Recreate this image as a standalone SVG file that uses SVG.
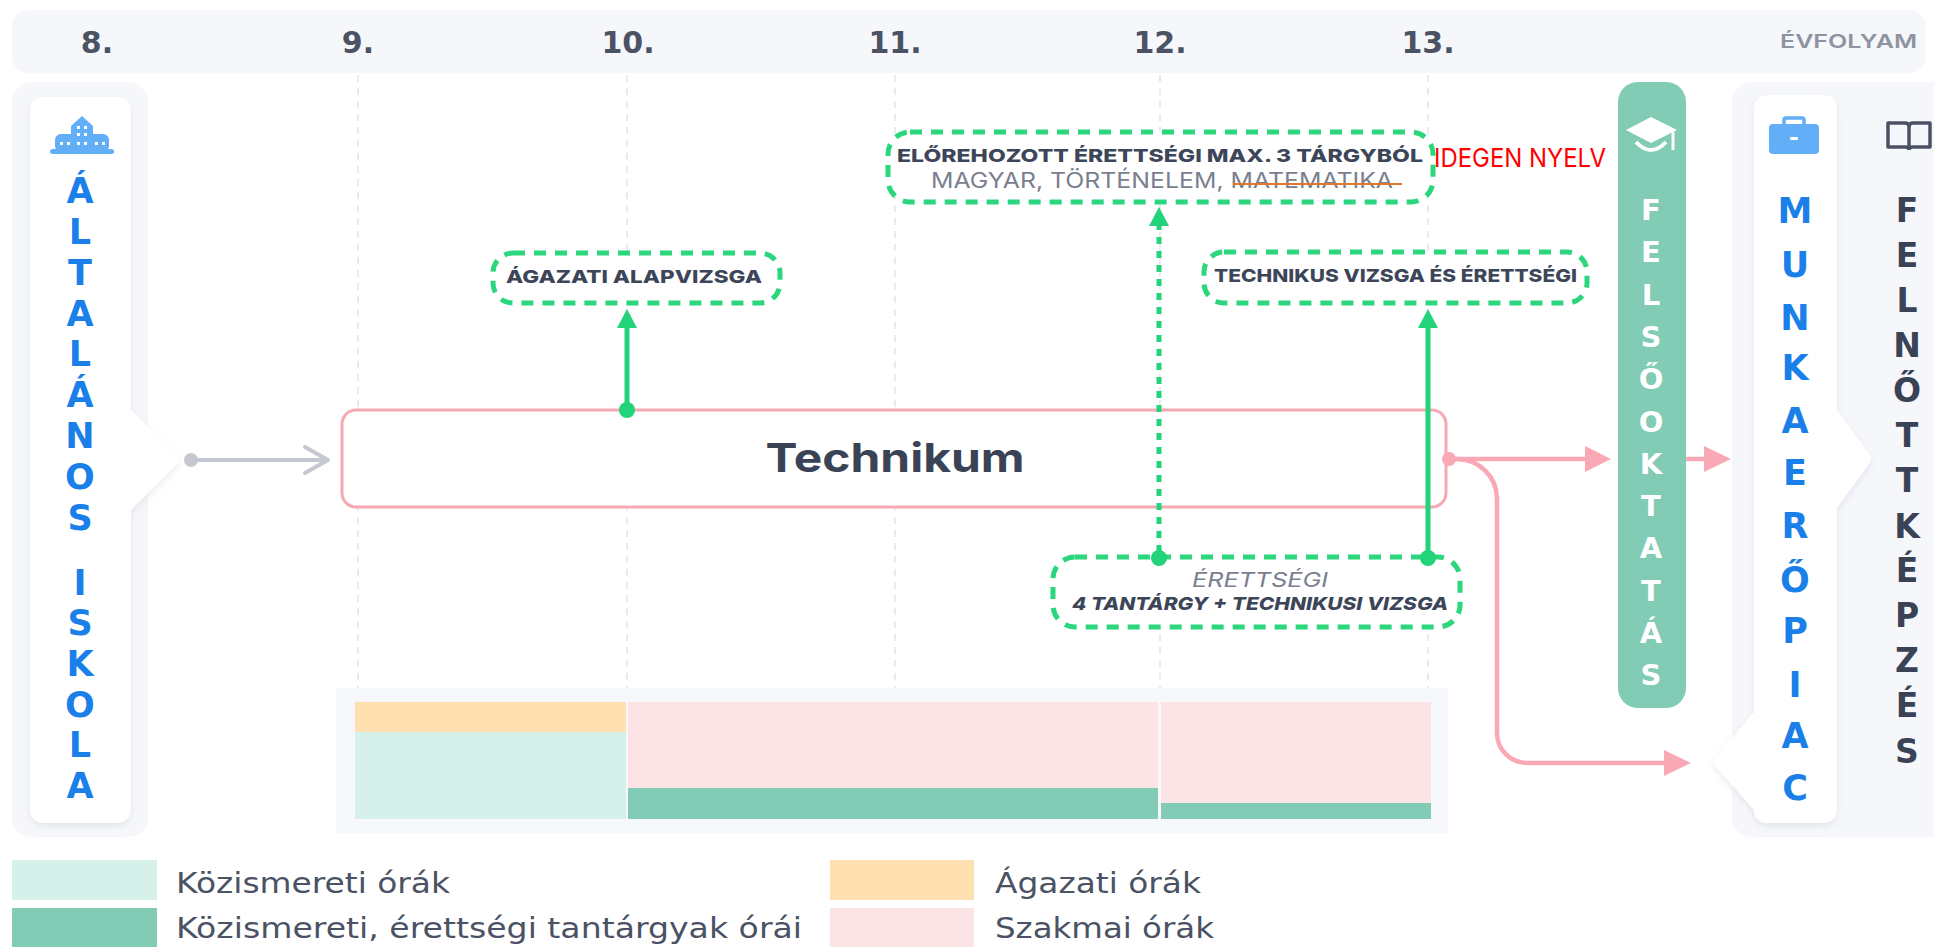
<svg xmlns="http://www.w3.org/2000/svg" width="1934" height="947" viewBox="0 0 1934 947">
<defs>
<style>
text{font-family:"Inter","Noto Sans","Liberation Sans",sans-serif}
.yr{font-family:"DejaVu Sans","Inter",sans-serif;font-size:30px;font-weight:700;fill:#4a5264;text-anchor:middle}
.grid{stroke:#e3e5eb;stroke-width:1.5;stroke-dasharray:7 6;fill:none}
.panel{fill:#f6f7fb}
.card{fill:#ffffff;filter:url(#sh)}
.gbox{fill:#ffffff;stroke:#2bd67d;stroke-width:5;stroke-dasharray:12 9}
.btxt{font-size:18px;font-weight:800;fill:#3d4659}
.gtxt{font-size:21px;font-weight:400;fill:#7a8090}
.gline{stroke:#22d37a;stroke-width:5;fill:none}
.gdot{stroke:#22d37a;stroke-width:5;stroke-dasharray:7 7;fill:none}
.gfill{fill:#22d37a}
.pink{stroke:#f9a9b5;stroke-width:4.5;fill:none}
.pfill{fill:#f9a9b5}
.vert{font-family:"DejaVu Sans","Inter",sans-serif;font-weight:700;text-anchor:middle}
.vblue{font-size:35px;fill:#1a7fe8}
.vdark{font-size:33px;fill:#3a4256}
.vwhite{font-size:29px;fill:#ffffff}
.leg{font-family:"DejaVu Sans","Noto Sans",sans-serif;font-size:28px;font-weight:400;fill:#4a5264}
</style>
<filter id="sh" x="-20%" y="-5%" width="140%" height="110%">
<feDropShadow dx="0" dy="3" stdDeviation="3" flood-color="#8a90a8" flood-opacity="0.18"/>
</filter>
</defs>

<!-- header -->
<g id="header">
<rect x="12" y="10" width="1914" height="63" rx="16" class="panel"/>
<text class="yr" x="97" y="53">8.</text>
<text class="yr" x="358" y="53">9.</text>
<text class="yr" x="628" y="53">10.</text>
<text class="yr" x="895" y="53">11.</text>
<text class="yr" x="1160" y="53">12.</text>
<text class="yr" x="1428" y="53">13.</text>
<text x="1780" y="48" font-size="19" font-weight="600" fill="#8c93a1" textLength="137" lengthAdjust="spacingAndGlyphs">ÉVFOLYAM</text>
</g>

<!-- grid lines -->
<g id="grid">
<line class="grid" x1="358" y1="75" x2="358" y2="688"/>
<line class="grid" x1="627" y1="75" x2="627" y2="688"/>
<line class="grid" x1="895" y1="75" x2="895" y2="688"/>
<line class="grid" x1="1160" y1="75" x2="1160" y2="688"/>
<line class="grid" x1="1428" y1="75" x2="1428" y2="688"/>
</g>

<!-- left node -->
<g id="altalanos-iskola">
<rect x="12" y="82" width="136" height="755" rx="20" class="panel"/>
<path class="card" d="M45,97 H116 Q131,97 131,112 V410 L176,455 Q180,460 176,465 L131,510 V808 Q131,823 116,823 H45 Q30,823 30,808 V112 Q30,97 45,97 Z"/>
<g fill="#62aef7">
<rect x="50" y="149" width="64" height="5" rx="2.5"/>
<path d="M71,151 V126 L82,116 L93,126 V151 Z"/>
<rect x="55" y="134" width="54" height="18" rx="6"/>
</g>
<g fill="#ffffff">
<rect x="77" y="126" width="3" height="3"/><rect x="84" y="126" width="3" height="3"/>
<rect x="77" y="133" width="3" height="3"/><rect x="84" y="133" width="3" height="3"/>
<rect x="60" y="142" width="3" height="3"/><rect x="67" y="142" width="3" height="3"/>
<rect x="77" y="142" width="3" height="3"/><rect x="84" y="142" width="3" height="3"/>
<rect x="95" y="142" width="3" height="3"/><rect x="102" y="142" width="3" height="3"/>
</g>
<text class="vert vblue"><tspan x="80" y="203">Á</tspan><tspan x="80" y="244">L</tspan><tspan x="80" y="285">T</tspan><tspan x="80" y="326">A</tspan><tspan x="80" y="366">L</tspan><tspan x="80" y="407">Á</tspan><tspan x="80" y="448">N</tspan><tspan x="80" y="489">O</tspan><tspan x="80" y="530">S</tspan><tspan x="80" y="595">I</tspan><tspan x="80" y="635">S</tspan><tspan x="80" y="676">K</tspan><tspan x="80" y="717">O</tspan><tspan x="80" y="757">L</tspan><tspan x="80" y="798">A</tspan></text>
</g>

<!-- chart -->
<g id="chart">
<rect x="336" y="688" width="1112" height="145" fill="#f7f8fb"/>
<rect x="355" y="702" width="271" height="30" fill="#fee0b1"/>
<rect x="355" y="732" width="271" height="87" fill="#d6f1e9"/>
<rect x="628" y="702" width="530" height="86" fill="#fbe3e6"/>
<rect x="628" y="788" width="530" height="31" fill="#82cbb4"/>
<rect x="1161" y="702" width="270" height="101" fill="#fbe3e6"/>
<rect x="1161" y="803" width="270" height="16" fill="#82cbb4"/>
</g>

<!-- Technikum -->
<g id="technikum">
<rect x="342" y="410" width="1104" height="97" rx="14" fill="#ffffff" stroke="#f7a9b3" stroke-width="3"/>
<text x="895" y="472" font-size="40" font-weight="700" fill="#3a4256" text-anchor="middle" textLength="259" lengthAdjust="spacingAndGlyphs">Technikum</text>
</g>

<!-- exam boxes -->
<g id="agazati-alapvizsga">
<rect class="gbox" x="493" y="253" width="287" height="50" rx="20"/>
<text class="btxt" x="506" y="283" textLength="256" lengthAdjust="spacingAndGlyphs">ÁGAZATI ALAPVIZSGA</text>
</g>

<g id="elorehozott">
<rect class="gbox" x="888" y="132" width="545" height="70" rx="22"/>
<text class="btxt" x="897" y="162" font-size="19" textLength="526" lengthAdjust="spacingAndGlyphs">ELŐREHOZOTT ÉRETTSÉGI MAX. 3 TÁRGYBÓL</text>
<text class="gtxt" x="931" y="188" textLength="462" lengthAdjust="spacingAndGlyphs">MAGYAR, TÖRTÉNELEM, MATEMATIKA</text>
<line x1="1233" y1="184" x2="1402" y2="184" stroke="#e0782f" stroke-width="2"/>
<text x="1434" y="167" font-family="Liberation Sans, Arial, sans-serif" font-size="26" fill="#ff0000" textLength="172" lengthAdjust="spacingAndGlyphs">IDEGEN NYELV</text>
</g>

<g id="technikus-vizsga">
<rect class="gbox" x="1204" y="252" width="383" height="51" rx="20"/>
<text class="btxt" x="1214" y="282" textLength="363" lengthAdjust="spacingAndGlyphs">TECHNIKUS VIZSGA ÉS ÉRETTSÉGI</text>
</g>

<g id="erettsegi">
<rect class="gbox" x="1053" y="557" width="407" height="70" rx="22"/>
<text x="1260" y="587" font-size="20" font-style="italic" fill="#7a8090" text-anchor="middle" textLength="136" lengthAdjust="spacingAndGlyphs">ÉRETTSÉGI</text>
<text class="btxt" x="1072" y="610" font-style="italic" textLength="376" lengthAdjust="spacingAndGlyphs">4 TANTÁRGY + TECHNIKUSI VIZSGA</text>
</g>

<!-- FELSŐOKTATÁS -->
<g id="felsooktatas">
<rect x="1618" y="82" width="68" height="626" rx="20" fill="#82cbb5"/>
<polygon points="1651,117 1677,130 1651,143 1626,130" fill="#ffffff"/>
<line x1="1673" y1="132" x2="1673" y2="150" stroke="#ffffff" stroke-width="3"/>
<path d="M1636,142 Q1651,158 1666,142" stroke="#ffffff" stroke-width="4" fill="none"/>
<text class="vert vwhite"><tspan x="1651" y="220">F</tspan><tspan x="1651" y="262">E</tspan><tspan x="1651" y="305">L</tspan><tspan x="1651" y="347">S</tspan><tspan x="1651" y="389">Ő</tspan><tspan x="1651" y="432">O</tspan><tspan x="1651" y="474">K</tspan><tspan x="1651" y="516">T</tspan><tspan x="1651" y="558">A</tspan><tspan x="1651" y="601">T</tspan><tspan x="1651" y="643">Á</tspan><tspan x="1651" y="685">S</tspan></text>
</g>

<!-- right panel: MUNKAERŐPIAC -->
<g id="munkaeropiac">
<rect x="1732" y="82" width="230" height="755" rx="20" class="panel"/>
<path class="card" d="M1769,95 H1822 Q1837,95 1837,110 V410 L1869,454 Q1873,459 1869,464 L1837,508 V808 Q1837,823 1822,823 H1769 Q1754,823 1754,810 L1716,767 Q1712,762 1716,757 L1754,712 V110 Q1754,95 1769,95 Z"/>
<rect x="1769" y="124" width="50" height="30" rx="4" fill="#62aef7"/>
<rect x="1784" y="118" width="20" height="9" rx="2" fill="none" stroke="#62aef7" stroke-width="3.5"/>
<rect x="1790" y="137" width="8" height="3" rx="1" fill="#ffffff"/>
<text class="vert vblue"><tspan x="1795" y="223">M</tspan><tspan x="1795" y="277">U</tspan><tspan x="1795" y="330">N</tspan><tspan x="1795" y="380">K</tspan><tspan x="1795" y="433">A</tspan><tspan x="1795" y="485">E</tspan><tspan x="1795" y="538">R</tspan><tspan x="1795" y="592">Ő</tspan><tspan x="1795" y="643">P</tspan><tspan x="1795" y="697">I</tspan><tspan x="1795" y="748">A</tspan><tspan x="1795" y="800">C</tspan></text>
</g>

<!-- FELNŐTTKÉPZÉS -->
<g id="felnottkepzes">
<path d="M1909,150 V127 Q1909,123 1905,123 H1888 V147 H1905 Q1909,147 1909,150 M1909,150 V127 Q1909,123 1913,123 H1930 V147 H1913 Q1909,147 1909,150" fill="none" stroke="#4a5164" stroke-width="3.5" stroke-linejoin="round"/>
<text class="vert vdark"><tspan x="1907" y="222">F</tspan><tspan x="1907" y="267">E</tspan><tspan x="1907" y="312">L</tspan><tspan x="1907" y="357">N</tspan><tspan x="1907" y="402">Ő</tspan><tspan x="1907" y="447">T</tspan><tspan x="1907" y="492">T</tspan><tspan x="1907" y="538">K</tspan><tspan x="1907" y="582">É</tspan><tspan x="1907" y="627">P</tspan><tspan x="1907" y="672">Z</tspan><tspan x="1907" y="717">É</tspan><tspan x="1907" y="763">S</tspan></text>
</g>

<!-- connectors -->
<g id="connectors">
<line x1="191" y1="460" x2="326" y2="460" stroke="#c5c8d0" stroke-width="4"/>
<polyline points="305,447 328,460 305,473" fill="none" stroke="#c5c8d0" stroke-width="4" stroke-linecap="round" stroke-linejoin="round"/>
<circle cx="191" cy="460" r="7" fill="#c5c8d0"/>

<line class="gline" x1="627" y1="410" x2="627" y2="326"/>
<polygon class="gfill" points="627,309 617,328 637,328"/>
<circle class="gfill" cx="627" cy="410" r="8"/>

<line class="gdot" x1="1159" y1="552" x2="1159" y2="226"/>
<polygon class="gfill" points="1159,207 1149,226 1169,226"/>
<circle class="gfill" cx="1159" cy="558" r="8"/>

<line class="gline" x1="1428" y1="558" x2="1428" y2="326"/>
<polygon class="gfill" points="1428,309 1418,328 1438,328"/>
<circle class="gfill" cx="1428" cy="558" r="8"/>

<line class="pink" x1="1449" y1="459" x2="1590" y2="459"/>
<polygon class="pfill" points="1611,459 1585,446 1585,472"/>
<line class="pink" x1="1686" y1="459" x2="1708" y2="459"/>
<polygon class="pfill" points="1731,459 1704,446 1704,472"/>
<path class="pink" d="M1449,459 H1457 A40,40 0 0 1 1497,499 V733 A30,30 0 0 0 1527,763 H1668"/>
<polygon class="pfill" points="1691,763 1664,750 1664,776"/>
<circle class="pfill" cx="1449" cy="459" r="7"/>
</g>

<!-- legend -->
<g id="legend">
<rect x="12" y="860" width="145" height="40" fill="#d6f1e9"/>
<rect x="12" y="908" width="145" height="39" fill="#82cbb4"/>
<rect x="830" y="860" width="144" height="40" fill="#fee0b1"/>
<rect x="830" y="908" width="144" height="39" fill="#fbe3e6"/>
<text class="leg" x="176" y="893" textLength="274" lengthAdjust="spacingAndGlyphs">Közismereti órák</text>
<text class="leg" x="176" y="938" textLength="626" lengthAdjust="spacingAndGlyphs">Közismereti, érettségi tantárgyak órái</text>
<text class="leg" x="995" y="893" textLength="206" lengthAdjust="spacingAndGlyphs">Ágazati órák</text>
<text class="leg" x="995" y="938" textLength="219" lengthAdjust="spacingAndGlyphs">Szakmai órák</text>
</g>
</svg>
